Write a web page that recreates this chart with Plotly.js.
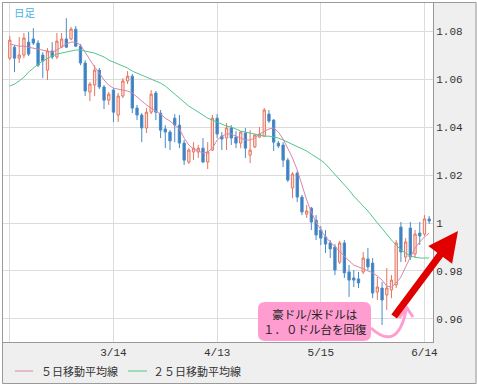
<!DOCTYPE html>
<html>
<head>
<meta charset="utf-8">
<script src="https://cdn.plot.ly/plotly-3.0.1.min.js"></script>
<style>
  html, body { margin: 0; padding: 0; background: #ffffff; }
  #chart { width: 477px; height: 387px; }
</style>
</head>
<body>
<div id="chart"></div>
<script>
// ---- data (AUD/USD daily) ----
const dates = ['2/13','2/14','2/15','2/16','2/17','2/20','2/21','2/22','2/23','2/24','2/27','2/28','2/29',
'3/1','3/2','3/5','3/6','3/7','3/8','3/9','3/12','3/13','3/14','3/15','3/16','3/19','3/20','3/21','3/22','3/23','3/26','3/27','3/28','3/29','3/30',
'4/2','4/3','4/4','4/5','4/6','4/9','4/10','4/11','4/12','4/13','4/16','4/17','4/18','4/19','4/20','4/23','4/24','4/25','4/26','4/27','4/30',
'5/1','5/2','5/3','5/4','5/7','5/8','5/9','5/10','5/11','5/14','5/15','5/16','5/17','5/18','5/21','5/22','5/23','5/24','5/25','5/28','5/29','5/30','5/31',
'6/1','6/4','6/5','6/6','6/7','6/8','6/11','6/12','6/13','6/14','6/15'];

const open = [1.0687,1.0733,1.0687,1.0700,1.0754,1.0767,1.0750,1.0700,1.0637,1.0717,
1.0692,1.0733,1.0767,1.0767,1.0808,1.0737,1.0667,1.0546,1.0575,1.0637,
1.0567,1.0512,1.0554,1.0450,1.0529,1.0592,1.0612,1.0479,1.0450,1.0396,
1.0462,1.0542,1.0458,1.0392,1.0379,1.0437,1.0408,1.0333,1.0254,1.0296,
1.0296,1.0312,1.0254,1.0304,1.0437,1.0362,1.0354,1.0396,1.0358,1.0333,
1.0375,1.0283,1.0317,1.0358,1.0362,1.0454,1.0429,1.0333,1.0325,1.0262,
1.0146,1.0208,1.0108,1.0037,1.0062,1.0012,0.9971,0.9942,0.9917,0.9900,
0.9837,0.9917,0.9796,0.9771,0.9767,0.9796,0.9850,0.9833,0.9712,0.9729,
0.9700,0.9721,0.9742,0.9983,0.9858,0.9979,0.9871,0.9958,0.9954,1.0017];

const high = [1.0779,1.0742,1.0775,1.0792,1.0796,1.0812,1.0762,1.0712,1.0729,1.0754,
1.0792,1.0792,1.0854,1.0817,1.0821,1.0746,1.0679,1.0587,1.0658,1.0646,
1.0575,1.0546,1.0562,1.0542,1.0604,1.0633,1.0621,1.0492,1.0458,1.0479,
1.0554,1.0550,1.0471,1.0408,1.0387,1.0454,1.0450,1.0346,1.0312,1.0337,
1.0325,1.0354,1.0337,1.0450,1.0454,1.0379,1.0417,1.0408,1.0383,1.0383,
1.0396,1.0387,1.0371,1.0400,1.0479,1.0471,1.0433,1.0342,1.0337,1.0271,
1.0212,1.0217,1.0117,1.0075,1.0067,1.0033,0.9987,0.9971,0.9929,0.9912,
0.9925,0.9929,0.9825,0.9804,0.9796,0.9879,0.9896,0.9854,0.9775,0.9754,
0.9812,0.9783,0.9929,1.0004,0.9937,1.0004,0.9971,1.0004,1.0033,1.0029];

const low = [1.0679,1.0629,1.0667,1.0687,1.0696,1.0742,1.0650,1.0604,1.0596,1.0683,
1.0683,1.0729,1.0729,1.0762,1.0733,1.0658,1.0529,1.0508,1.0529,1.0558,
1.0475,1.0492,1.0421,1.0421,1.0521,1.0579,1.0458,1.0429,1.0337,1.0375,
1.0454,1.0429,1.0354,1.0312,1.0304,1.0337,1.0312,1.0242,1.0246,1.0262,
1.0271,1.0250,1.0225,1.0300,1.0354,1.0304,1.0304,1.0325,1.0312,1.0312,
1.0271,1.0250,1.0312,1.0354,1.0358,1.0417,1.0300,1.0312,1.0233,1.0171,
1.0104,1.0087,1.0033,1.0021,0.9971,0.9929,0.9908,0.9875,0.9854,0.9783,
0.9829,0.9771,0.9692,0.9733,0.9729,0.9787,0.9804,0.9687,0.9679,0.9575,
0.9637,0.9687,0.9729,0.9837,0.9837,0.9846,0.9854,0.9908,0.9946,0.9996];

const close = [1.0762,1.0687,1.0700,1.0771,1.0704,1.0750,1.0658,1.0675,1.0717,1.0692,
1.0758,1.0767,1.0733,1.0808,1.0737,1.0667,1.0550,1.0579,1.0637,1.0567,
1.0512,1.0537,1.0462,1.0529,1.0592,1.0612,1.0479,1.0450,1.0396,1.0462,
1.0537,1.0462,1.0387,1.0379,1.0342,1.0408,1.0333,1.0262,1.0304,1.0312,
1.0312,1.0254,1.0296,1.0437,1.0371,1.0350,1.0396,1.0354,1.0333,1.0379,
1.0312,1.0304,1.0367,1.0371,1.0471,1.0425,1.0337,1.0321,1.0262,1.0179,
1.0204,1.0108,1.0046,1.0050,1.0004,0.9950,0.9937,0.9912,0.9892,0.9804,
0.9917,0.9792,0.9762,0.9762,0.9750,0.9854,0.9817,0.9708,0.9733,0.9679,
0.9729,0.9762,0.9917,0.9879,0.9921,0.9858,0.9954,0.9946,1.0017,1.0008];

const ma5 = [1.0746,1.0742,1.0737,1.0737,1.0733,1.0729,1.0725,1.0721,1.0717,1.0712,
1.0721,1.0733,1.0746,1.0754,1.0754,1.0742,1.0712,1.0679,1.0650,1.0625,
1.0596,1.0575,1.0562,1.0558,1.0554,1.0550,1.0542,1.0525,1.0508,1.0492,
1.0479,1.0467,1.0454,1.0437,1.0425,1.0408,1.0392,1.0354,1.0325,1.0308,
1.0300,1.0292,1.0296,1.0312,1.0346,1.0362,1.0371,1.0371,1.0362,1.0354,
1.0346,1.0346,1.0354,1.0371,1.0383,1.0392,1.0396,1.0379,1.0350,1.0312,
1.0271,1.0221,1.0154,1.0096,1.0046,1.0004,0.9971,0.9942,0.9921,0.9900,
0.9883,0.9862,0.9842,0.9825,0.9817,0.9808,0.9800,0.9792,0.9779,0.9762,
0.9737,0.9733,0.9750,0.9775,0.9817,0.9858,0.9896,0.9921,0.9942,0.9958];

const ma25 = [1.0571,1.0579,1.0592,1.0608,1.0629,1.0646,1.0662,1.0675,1.0687,1.0696,
1.0704,1.0708,1.0712,1.0717,1.0721,1.0721,1.0717,1.0712,1.0708,1.0700,
1.0692,1.0679,1.0671,1.0662,1.0654,1.0646,1.0633,1.0625,1.0617,1.0608,
1.0600,1.0592,1.0583,1.0571,1.0554,1.0537,1.0521,1.0504,1.0487,1.0475,
1.0462,1.0450,1.0437,1.0429,1.0421,1.0412,1.0404,1.0400,1.0392,1.0383,
1.0379,1.0375,1.0371,1.0367,1.0362,1.0362,1.0358,1.0354,1.0346,1.0337,
1.0329,1.0321,1.0312,1.0300,1.0287,1.0275,1.0262,1.0246,1.0225,1.0204,
1.0179,1.0158,1.0137,1.0112,1.0092,1.0071,1.0050,1.0025,1.0000,0.9975,
0.9954,0.9929,0.9908,0.9887,0.9875,0.9862,0.9858,0.9854,0.9854,0.9854];

const xTickVals = ['2/13','3/14','4/13','5/15','6/14'];
const xTickText = ['','3/14','4/13','5/15','6/14'];
const yTickVals = [0.96,0.98,1.00,1.02,1.04,1.06,1.08];
const yTickText = ['0.96','0.98','1','1.02','1.04','1.06','1.08'];
const legendNames = ['５日移動平均線','２５日移動平均線'];
const chartLabel = '日足';
const noteText = '豪ドル/米ドルは<br>１．０ドル台を回復';

// ---- layout helpers (pixel -> paper) ----
const PL = 3, PR = 433, PT = 3, PB = 342;
const px = x => (x - PL) / (PR - PL);
const py = y => (PB - y) / (PB - PT);

function roundRect(x0, y0, x1, y1, r) {
  const P = (x, y) => px(x) + ',' + py(y);
  return 'M' + P(x0 + r, y0) + ' L' + P(x1 - r, y0) + ' Q' + P(x1, y0) + ' ' + P(x1, y0 + r) +
    ' L' + P(x1, y1 - r) + ' Q' + P(x1, y1) + ' ' + P(x1 - r, y1) +
    ' L' + P(x0 + r, y1) + ' Q' + P(x0, y1) + ' ' + P(x0, y1 - r) +
    ' L' + P(x0, y0 + r) + ' Q' + P(x0, y0) + ' ' + P(x0 + r, y0) + ' Z';
}

const MA5_COLOR = '#d886a8';
const MA25_COLOR = '#52c68c';
const PINK = '#ff9dd0';

const traces = [
  {
    type: 'candlestick', x: dates, open: open, high: high, low: low, close: close,
    increasing: { line: { color: '#e7745e', width: 1 }, fillcolor: '#fde4df' },
    decreasing: { line: { color: '#4b8cc8', width: 1 }, fillcolor: '#3b7dbf' },
    whiskerwidth: 0, hoverinfo: 'skip', showlegend: false
  },
  { type: 'scatter', mode: 'lines', x: dates, y: ma5, name: legendNames[0],
    line: { color: MA5_COLOR, width: 1 }, hoverinfo: 'skip', showlegend: false },
  { type: 'scatter', mode: 'lines', x: dates, y: ma25, name: legendNames[1],
    line: { color: MA25_COLOR, width: 1 }, hoverinfo: 'skip', showlegend: false }
];

const tickFont = { family: 'Liberation Mono, DejaVu Sans Mono, monospace', size: 11, color: '#333333' };
const ann = (x, y, text, font, xanchor) => ({
  xref: 'paper', yref: 'paper', x: px(x), y: py(y), text: text, showarrow: false,
  xanchor: xanchor || 'center', yanchor: 'middle', font: font
});

const layout = {
  width: 477, height: 387,
  margin: { l: PL, r: 477 - PR, t: PT, b: 387 - PB, pad: 0 },
  paper_bgcolor: '#ffffff', plot_bgcolor: '#ffffff',
  showlegend: false,
  boxgap: 0.3,
  xaxis: {
    type: 'category', range: [-1.44, 89.81],
    tickvals: xTickVals, ticktext: xTickText,
    showgrid: true, gridcolor: '#dcdcdc', gridwidth: 1,
    showline: true, linecolor: '#9a9a9a', linewidth: 1, mirror: true,
    ticks: '', tickfont: tickFont, zeroline: false,
    rangeslider: { visible: false }, fixedrange: true
  },
  yaxis: {
    side: 'right', range: [0.9504, 1.0917],
    tickvals: yTickVals, ticktext: yTickText,
    showgrid: true, gridcolor: '#dcdcdc', gridwidth: 1,
    showline: true, linecolor: '#9a9a9a', linewidth: 1, mirror: true,
    ticks: '', tickfont: tickFont, zeroline: false, fixedrange: true
  },
  shapes: [
    { type: 'rect', xref: 'paper', yref: 'paper', layer: 'below',
      x0: px(PR), x1: px(477), y0: py(384), y1: py(2), fillcolor: '#efefef', line: { width: 0 } },
    { type: 'rect', xref: 'paper', yref: 'paper', layer: 'below',
      x0: px(2), x1: px(477), y0: py(384), y1: py(PB), fillcolor: '#efefef', line: { width: 0 } },
    { type: 'rect', xref: 'paper', yref: 'paper',
      x0: px(2.5), x1: px(476), y0: py(383.5), y1: py(2.5), line: { color: '#9a9a9a', width: 1 } },
    { type: 'line', xref: 'paper', yref: 'paper', x0: px(15), x1: px(33), y0: py(371), y1: py(371),
      line: { color: MA5_COLOR, width: 1 } },
    { type: 'line', xref: 'paper', yref: 'paper', x0: px(128), x1: px(147), y0: py(371), y1: py(371),
      line: { color: MA25_COLOR, width: 1 } },
    { type: 'path', xref: 'paper', yref: 'paper', path: roundRect(258, 302, 371, 341, 7),
      fillcolor: PINK, line: { width: 0 } },
    { type: 'path', xref: 'paper', yref: 'paper',
      path: 'M' + px(371) + ',' + py(328) + ' Q' + px(397) + ',' + py(352) + ' ' + px(406) + ',' + py(311),
      line: { color: PINK, width: 3 } },
    { type: 'path', xref: 'paper', yref: 'paper',
      path: 'M' + px(399) + ',' + py(318) + ' L' + px(407) + ',' + py(308) + ' L' + px(413) + ',' + py(317),
      line: { color: PINK, width: 3 } }
  ],
  annotations: [
    ann(25, 12, chartLabel, { family: 'Noto Sans CJK JP', size: 10.5, color: '#45b4e6' }),
    ann(39, 371, legendNames[0], { family: 'Noto Sans CJK JP', size: 11, color: '#333333' }, 'left'),
    ann(151, 371, legendNames[1], { family: 'Noto Sans CJK JP', size: 11, color: '#333333' }, 'left'),
    ann(314.5, 321.5, noteText, { family: 'Noto Sans CJK JP', size: 11.5, color: '#222222' }),
    { xref: 'paper', yref: 'paper', x: px(458), y: py(231), text: '', showarrow: true,
      ax: -65, ay: 87, arrowcolor: '#e00000', arrowwidth: 7, arrowhead: 2, arrowsize: 0.85, standoff: 0 }
  ]
};

Plotly.newPlot('chart', traces, layout, { staticPlot: true, displayModeBar: false });
</script>
</body>
</html>
